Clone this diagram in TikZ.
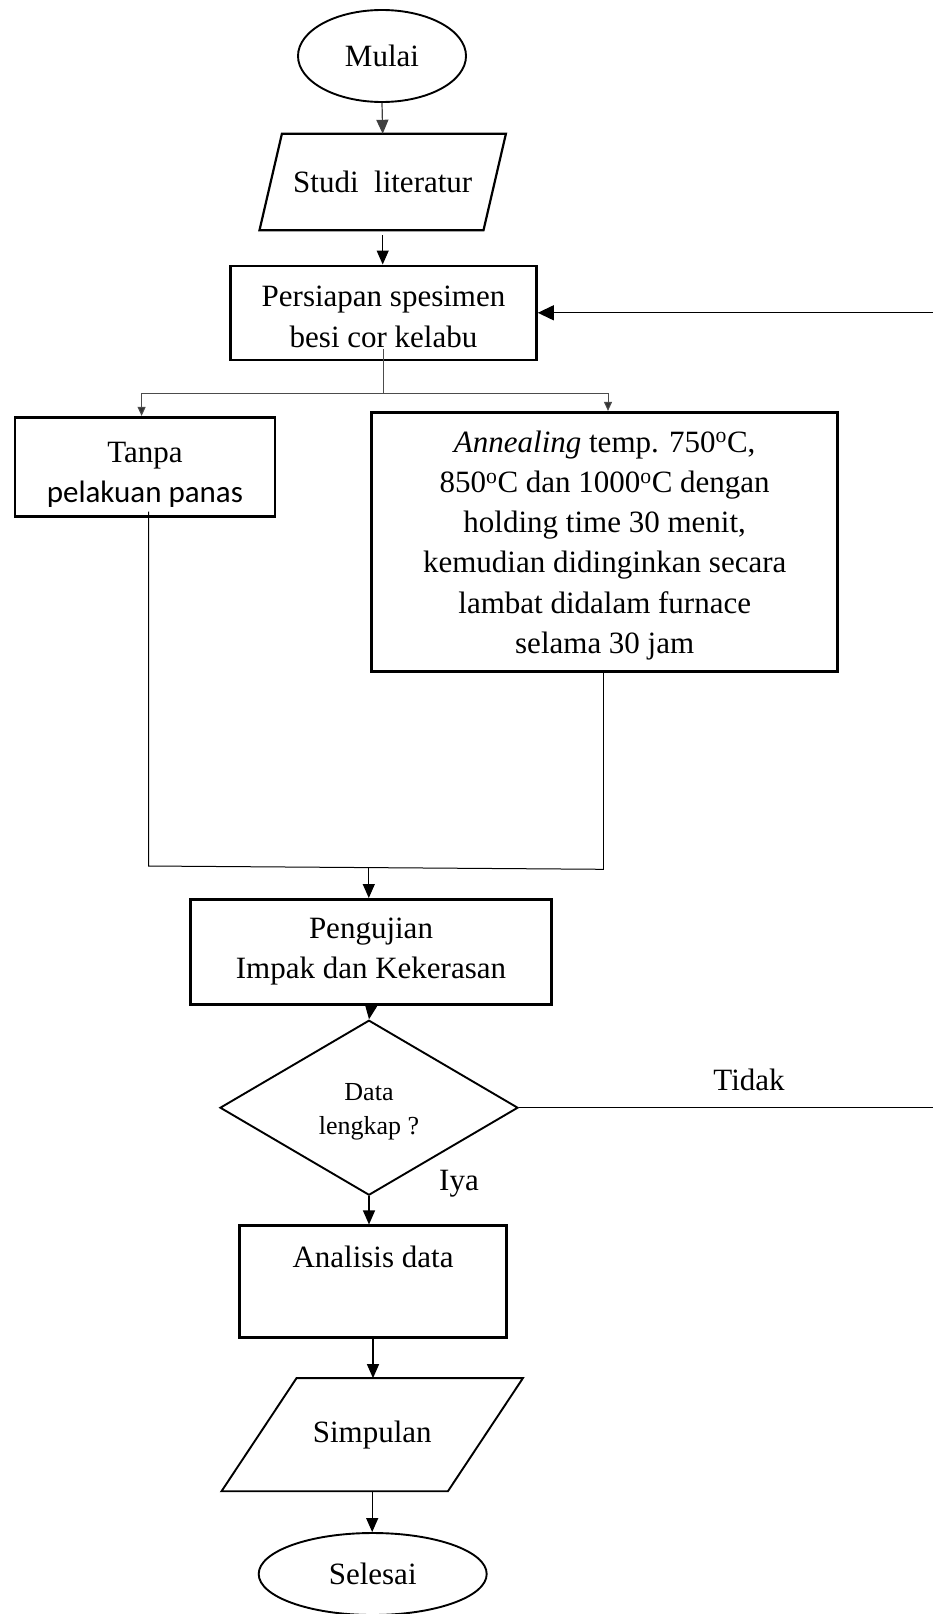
\documentclass[tikz,border=0pt]{standalone}
\usepackage{fontspec}
\setmainfont{Liberation Serif}
\newfontfamily\carlito{Carlito}
\usetikzlibrary{shapes.geometric,arrows.meta,calc}
\tikzset{
  thickbox/.style={draw, line width=2.6pt, align=center, inner sep=0pt},
  thinbox/.style={draw, line width=1.9pt, align=center, inner sep=0pt},
  plain/.style={inner sep=0pt, align=center},
  arr/.style={line width=1.2pt, -{Triangle[length=14pt,width=12pt]}},
  bigarr/.style={line width=1.3pt, -{Triangle[length=16pt,width=15pt]}},
  splitline/.style={line width=1pt, draw=black!70},
  smallarr/.style={splitline, -{Triangle[length=9pt,width=8pt,fill=black!80]}},
  mergeline/.style={line width=1pt, draw=black},
  smallfont/.style={font=\fontsize{26pt}{33.5pt}\selectfont}
}
\begin{document}
\begin{tikzpicture}[x=1pt,y=-1pt,font=\fontsize{31pt}{40.3pt}\selectfont]
\useasboundingbox (0,0) rectangle (933,1614);
\clip (0,0) rectangle (933,1614);

% --- nodes ---
\node[ellipse, thinbox, minimum width=168pt, minimum height=92pt] (mulai) at (382,56) {Mulai};

\node[plain, minimum width=246pt, minimum height=96pt] (studi) at (382.7,182) {Studi\ \ literatur};
\draw[line width=2.2pt, line join=miter] ($(studi.north west)+(22.4,0)$) -- (studi.north east)
  -- ($(studi.south east)+(-22.4,0)$) -- (studi.south west) -- cycle;

\node[thickbox, minimum width=306pt, minimum height=94pt] (persiapan) at (383.5,312.8) {};
\node[plain] (persiapanT) at (383.5,317) {Persiapan spesimen\\ besi cor kelabu};

\node[thickbox, minimum width=260pt, minimum height=99pt] (tanpa) at (144.9,466.7) {};
\node[plain] (tanpaT) at (144.9,474.5) {Tanpa\\ {\carlito pelakuan panas}};

\node[thickbox, minimum width=466pt, minimum height=259pt] (anneal) at (604.7,541.7) {};
\node[plain] (annealT) at (604.7,545.3)
  {{\itshape Annealing} temp. 750\textsuperscript{o}C,\\
   850\textsuperscript{o}C dan 1000\textsuperscript{o}C dengan\\
   holding time 30 menit,\\
   kemudian didinginkan secara\\
   lambat didalam furnace\\
   selama 30 jam};

\node[thickbox, minimum width=361pt, minimum height=105pt] (pengujian) at (371,951.8)
  {Pengujian\\ Impak dan Kekerasan};

\node[diamond, thinbox, aspect=1.7, minimum width=298pt, minimum height=175pt] (dec) at (369,1107.7) {};
\node[plain, smallfont] (decT) at (369,1112) {Data\\ lengkap ?};

\node[thinbox, line width=2.1pt, minimum width=267pt, minimum height=112pt] (analisis) at (373,1281.5) {};
\node[plain] (analisisT) at (373,1256.7) {Analisis data};

\node[plain, minimum width=301pt, minimum height=112.7pt] (simpulan) at (372.2,1434.7) {Simpulan};
\draw[line width=1.9pt, line join=miter] ($(simpulan.north west)+(75,0)$) -- (simpulan.north east)
  -- ($(simpulan.south east)+(-75,0)$) -- (simpulan.south west) -- cycle;

\node[ellipse, thinbox, minimum width=228pt, minimum height=82pt] (selesai) at (372.7,1574) {Selesai};

\node[plain] (tidak) at (749,1080) {Tidak};
\node[plain] (iya) at (459,1184) {Iya};

% --- connectors ---
\draw[arr, draw=black!75] (mulai.south) -- (studi.north);
\draw[arr, shorten <=5pt] (studi.south) -- (studi.south |- persiapan.north);

\coordinate (sp) at ($(persiapan.south)+(0,-12)$);
\coordinate (jM) at (383.5,393.3);
\coordinate (jL) at (141.6,393.3);
\coordinate (jR) at (608,393.3);
\draw[splitline] (sp) -- (jM);
\draw[smallarr] (jM) -- (jL) -- (jL |- tanpa.north);
\draw[smallarr] (jM) -- (jR) -- (jR |- anneal.north);

\coordinate (mL) at (148.7,866);
\coordinate (mR) at (603.8,869.3);
\coordinate (mM) at (368.8,868);
\draw[mergeline] ($(tanpa.south)+(3.8,-6)$) -- (mL) -- (mR);
\draw[mergeline] (anneal.south -| mR) -- (mR);
\draw[arr] (mM) -- (mM |- pengujian.north);

\draw[arr] (pengujian.south) -- (dec.north);

\coordinate (rB) at (950,1107.7);
\draw[bigarr] (dec.east) -- (rB) -- (rB |- persiapan.east) -- (persiapan.east);

\draw[arr] (dec.south) -- (dec.south |- analisis.north);
\draw[arr] (analisis.south) -- (analisis.south |- simpulan.north);
\draw[arr] (simpulan.south) -- (simpulan.south |- selesai.north);
\end{tikzpicture}
\end{document}
